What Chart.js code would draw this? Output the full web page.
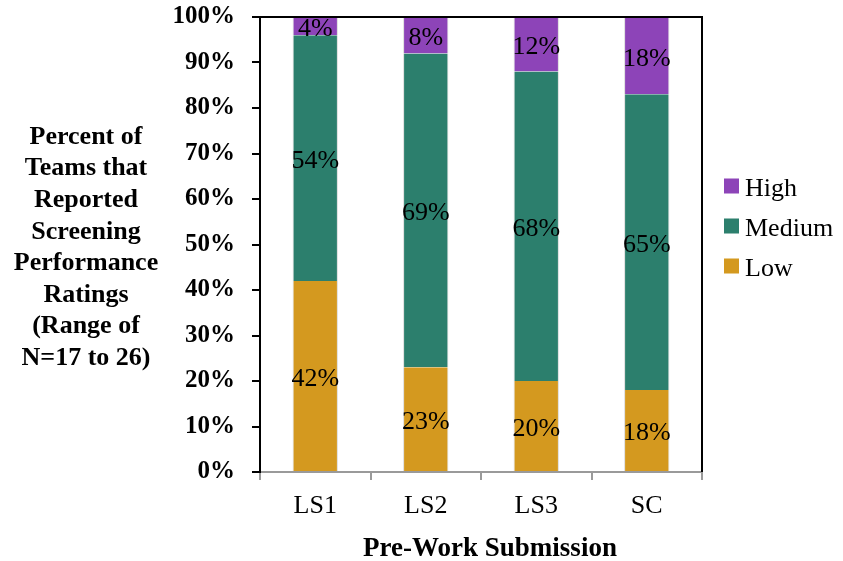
<!DOCTYPE html>
<html>
<head>
<meta charset="utf-8">
<script src="https://cdn.jsdelivr.net/npm/chart.js@4/dist/chart.umd.min.js"></script>
<style>
  html, body { margin: 0; padding: 0; background: #fff; }
  #wrap { width: 843px; height: 561px; }
</style>
</head>
<body>
<div id="wrap"><canvas id="c" width="843" height="561"></canvas></div>
<script>
// Share of teams per screening performance rating, by pre-work submission
const categories = ['LS1', 'LS2', 'LS3', 'SC'];
const lowValues = [42, 23, 20, 18];
const mediumValues = [54, 69, 68, 65];
const highValues = [4, 8, 12, 18];
const yTickValues = [0, 10, 20, 30, 40, 50, 60, 70, 80, 90, 100];
const yTitleLines = ['Percent of', 'Teams that', 'Reported', 'Screening', 'Performance', 'Ratings', '(Range of', 'N=17 to 26)'];
const xTitle = 'Pre-Work Submission';

const SERIF = "'Liberation Serif', 'Times New Roman', serif";
const COLORS = { low: '#D4991F', medium: '#2C7F6D', high: '#8D44B8' };

// Segment value labels, centred in the visible part of each bar segment
const segmentLabels = {
  id: 'segmentLabels',
  afterDatasetsDraw(chart) {
    const { ctx, chartArea } = chart;
    ctx.save();
    ctx.font = '26px ' + SERIF;
    ctx.fillStyle = '#000';
    ctx.textAlign = 'center';
    ctx.textBaseline = 'middle';
    chart.data.datasets.forEach((ds, di) => {
      const meta = chart.getDatasetMeta(di);
      meta.data.forEach((bar, i) => {
        const top = Math.max(bar.y, chartArea.top);
        const bottom = Math.min(bar.base, chartArea.bottom);
        ctx.fillText(ds.data[i] + '%', bar.x, (top + bottom) / 2 + 3);
      });
    });
    ctx.restore();
  }
};

// Frame lines, axis titles and the side legend
const decorations = {
  id: 'decorations',
  afterDraw(chart) {
    const { ctx, chartArea } = chart;
    ctx.save();
    ctx.strokeStyle = '#000';
    ctx.lineWidth = 2;
    ctx.beginPath();
    ctx.moveTo(chartArea.left - 1, chartArea.top);
    ctx.lineTo(chartArea.right, chartArea.top);
    ctx.lineTo(chartArea.right, chartArea.bottom);
    ctx.stroke();

    // y-axis title, stacked horizontally on the left
    ctx.fillStyle = '#000';
    ctx.font = 'bold 26px ' + SERIF;
    ctx.textAlign = 'center';
    ctx.textBaseline = 'middle';
    yTitleLines.forEach((line, i) => {
      ctx.fillText(line, 86, 137 + i * 31.6);
    });

    // x-axis title
    ctx.font = 'bold 27px ' + SERIF;
    ctx.fillText(xTitle, 490, 549);

    // legend, listed top to bottom in reverse stacking order
    const items = chart.data.datasets.slice().reverse();
    ctx.font = '26px ' + SERIF;
    ctx.textAlign = 'left';
    items.forEach((ds, i) => {
      const cy = 186 + i * 40;
      ctx.fillStyle = ds.backgroundColor;
      ctx.fillRect(724, cy - 7.5, 15, 15);
      ctx.fillStyle = '#000';
      ctx.fillText(ds.label, 745, cy + 3);
    });
    ctx.restore();
  }
};

new Chart(document.getElementById('c'), {
  type: 'bar',
  data: {
    labels: categories,
    datasets: [
      { label: 'Low', data: lowValues, backgroundColor: COLORS.low },
      { label: 'Medium', data: mediumValues, backgroundColor: COLORS.medium },
      { label: 'High', data: highValues, backgroundColor: COLORS.high }
    ].map(ds => Object.assign(ds, {
      borderColor: 'rgba(215,215,215,0.9)',
      borderWidth: { top: 0, bottom: 0, left: 1, right: 1 },
      barPercentage: 0.41,
      categoryPercentage: 1
    }))
  },
  options: {
    responsive: false,
    animation: false,
    devicePixelRatio: 1,
    layout: { padding: { top: 17, right: 141, left: 0, bottom: 0 } },
    plugins: {
      legend: { display: false },
      tooltip: { enabled: false }
    },
    scales: {
      x: {
        stacked: true,
        afterFit(scale) {
          scale.height = 89;
          scale.paddingLeft = 0;
          scale.paddingRight = 0;
        },
        border: { display: true, color: '#9a9a9a', width: 2 },
        grid: {
          offset: true,
          drawOnChartArea: false,
          drawTicks: true,
          tickLength: 8,
          color: '#9a9a9a',
          lineWidth: 2
        },
        ticks: {
          color: '#000',
          padding: 11,
          font: { family: SERIF, size: 26 }
        }
      },
      y: {
        stacked: true,
        min: 0,
        max: 100,
        afterFit(scale) {
          scale.width = 260;
          scale.paddingTop = 0;
          scale.paddingBottom = 0;
        },
        afterBuildTicks(scale) { scale.ticks = yTickValues.map(v => ({ value: v })); },
        border: { display: true, color: '#000', width: 2 },
        grid: {
          drawOnChartArea: false,
          drawTicks: true,
          tickLength: 8,
          color: '#000',
          lineWidth: 2
        },
        ticks: {
          color: '#000',
          padding: 17,
          font: { family: SERIF, size: 25, weight: 'bold' },
          callback: v => v + '%'
        }
      }
    }
  },
  plugins: [segmentLabels, decorations]
});
</script>
</body>
</html>
